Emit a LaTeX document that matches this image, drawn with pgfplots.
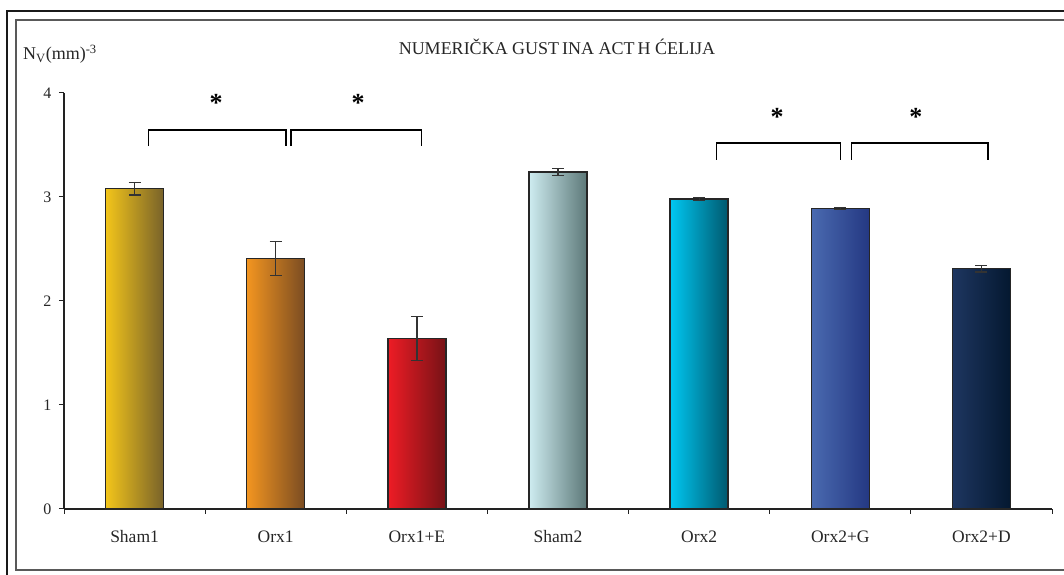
\documentclass[border=0pt]{standalone}
\usepackage{pgfplots}
\pgfplotsset{compat=1.18}
\usepackage{fontspec}
\setmainfont{Liberation Serif}
\definecolor{axgray}{HTML}{222222}
\begin{document}
\begin{tikzpicture}[x=1bp,y=1bp]
\useasboundingbox (0,0) rectangle (1064,575);
\begin{scope}
\clip (0,0) rectangle (1064,575);
\draw[line width=1.6bp, black!90] (7,564) rectangle (1080,-20);
\draw[line width=1.1bp, black!65] (16,555) rectangle (1075,5);
\end{scope}
\node[font=\fontsize{18bp}{21bp}\selectfont, text=black!85] at (557,528) {NUMERIČKA GUST\hspace{3bp}INA ACT\hspace{3bp}H ĆELIJA};
\node[font=\fontsize{18bp}{21bp}\selectfont, anchor=base west, inner sep=0pt, text=black!85] at (23,515) {N\textsubscript{V}(mm)\textsuperscript{-3}};
\begin{axis}[
  at={(64bp,66bp)}, anchor=south west,
  width=988bp, height=416bp, scale only axis,
  xmin=-0.5, xmax=6.5, ymin=0, ymax=4,
  axis x line=bottom, axis y line=left,
  axis line style={-, axgray, line width=1.1bp},
  ybar, bar width=58bp,
  xtick={0,...,6},
  xticklabels={Sham1,Orx1,Orx1+E,Sham2,Orx2,Orx2+G,Orx2+D},
  major x tick style={draw=none},
  minor xtick={-0.5,0.5,...,6.5},
  minor tick length=5bp,
  ytick={0,1,2,3,4},
  major tick length=5bp,
  tick align=outside,
  tick style={axgray, line width=1bp},
  /pgf/number format/assume math mode=true,
  xticklabel style={font=\fontsize{17.5bp}{20bp}\selectfont, text=black!85, yshift=-13bp},
  yticklabel style={font=\fontsize{16bp}{19bp}\selectfont, text=black!85, xshift=-4bp},
  clip=false,
]
\addplot[bar shift=0pt, draw=black!85, line width=1.4bp, left color={rgb,255:red,243;green,197;blue,26}, right color={rgb,255:red,120;green,98;blue,42}] coordinates {(0,3.08)};
\addplot[bar shift=0pt, draw=black!85, line width=1.4bp, left color={rgb,255:red,243;green,149;blue,32}, right color={rgb,255:red,122;green,76;blue,34}] coordinates {(1,2.41)};
\addplot[bar shift=0pt, draw=black!85, line width=1.4bp, left color={rgb,255:red,238;green,28;blue,37}, right color={rgb,255:red,118;green,18;blue,22}] coordinates {(2,1.64)};
\addplot[bar shift=0pt, draw=black!85, line width=1.4bp, left color={rgb,255:red,206;green,236;blue,240}, right color={rgb,255:red,92;green,120;blue,120}] coordinates {(3,3.24)};
\addplot[bar shift=0pt, draw=black!85, line width=1.4bp, left color={rgb,255:red,0;green,200;blue,242}, right color={rgb,255:red,0;green,88;blue,110}] coordinates {(4,2.98)};
\addplot[bar shift=0pt, draw=black!85, line width=1.4bp, left color={rgb,255:red,74;green,106;blue,176}, right color={rgb,255:red,36;green,56;blue,130}] coordinates {(5,2.89)};
\addplot[bar shift=0pt, draw=black!85, line width=1.4bp, left color={rgb,255:red,30;green,54;blue,96}, right color={rgb,255:red,4;green,24;blue,48}] coordinates {(6,2.31)};
% error bars
\addplot[sharp plot, bar shift=0pt, draw=none, mark=none,
  error bars/.cd, y dir=both, y explicit,
  error bar style={black!80, line width=1.3bp},
  error mark options={rotate=90, mark size=6bp, black!80, line width=1.3bp}]
  coordinates {
  (0,3.08) +- (0,0.06)
  (1,2.41) +- (0,0.165)
  (2,1.64) +- (0,0.21)
  (3,3.24) +- (0,0.033)
  (4,2.98) +- (0,0.012)
  (5,2.89) +- (0,0.012)
  (6,2.31) +- (0,0.03)
  };
% significance brackets
\addplot[sharp plot, bar shift=0pt, black, line width=1.2bp, mark=none] coordinates {(0.10,3.49) (0.10,3.644) (1.073,3.644) (1.073,3.49)};
\addplot[sharp plot, bar shift=0pt, black, line width=1.2bp, mark=none] coordinates {(1.108,3.49) (1.108,3.644) (2.035,3.644) (2.035,3.49)};
\addplot[sharp plot, bar shift=0pt, black, line width=1.2bp, mark=none] coordinates {(4.125,3.36) (4.125,3.52) (5.004,3.52) (5.004,3.36)};
\addplot[sharp plot, bar shift=0pt, black, line width=1.2bp, mark=none] coordinates {(5.082,3.36) (5.082,3.52) (6.046,3.52) (6.046,3.36)};
\node[font=\fontsize{26bp}{28bp}\selectfont\bfseries, anchor=center] at (axis cs:0.577,3.90) {*};
\node[font=\fontsize{26bp}{28bp}\selectfont\bfseries, anchor=center] at (axis cs:1.583,3.90) {*};
\node[font=\fontsize{26bp}{28bp}\selectfont\bfseries, anchor=center] at (axis cs:4.553,3.77) {*};
\node[font=\fontsize{26bp}{28bp}\selectfont\bfseries, anchor=center] at (axis cs:5.536,3.77) {*};
\end{axis}
\end{tikzpicture}
\end{document}
